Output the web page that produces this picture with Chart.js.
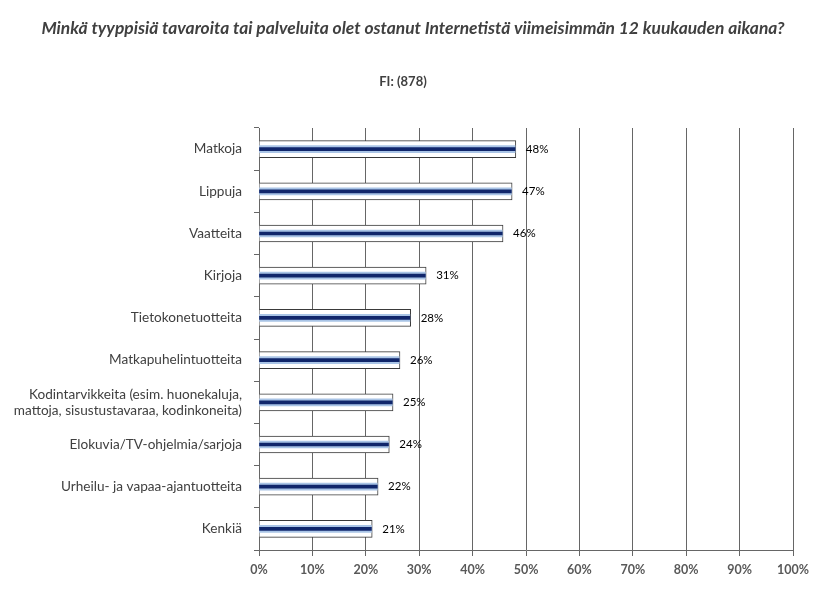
<!DOCTYPE html>
<html><head><meta charset="utf-8">
<script src="https://cdn.jsdelivr.net/npm/chart.js@4"></script>
<style>html,body{margin:0;padding:0;background:#fff}#wrap{width:818px;height:594px;position:relative}</style>
</head><body><div id="wrap"><canvas id="c" width="818" height="594"></canvas></div>
<script>
const categories = ["Matkoja","Lippuja","Vaatteita","Kirjoja","Tietokonetuotteita","Matkapuhelintuotteita",["Kodintarvikkeita (esim. huonekaluja,","mattoja, sisustustavaraa, kodinkoneita)"],"Elokuvia/TV-ohjelmia/sarjoja","Urheilu- ja vapaa-ajantuotteita","Kenkiä"];
const values = [48.1, 47.4, 45.7, 31.3, 28.4, 26.4, 25.1, 24.4, 22.3, 21.2];
const valueLabels = ["48%","47%","46%","31%","28%","26%","25%","24%","22%","21%"];
const xTicks = [0,10,20,30,40,50,60,70,80,90,100];
const title = "Minkä tyyppisiä tavaroita tai palveluita olet ostanut Internetistä viimeisimmän 12 kuukauden aikana?";
const subtitle = "FI: (878)";

const textPlugin = {
  id:'texts',
  afterDraw(chart){
    const ctx = chart.ctx;
    ctx.save();
    ctx.fillStyle = '#404040';
    ctx.textAlign = 'center';
    ctx.textBaseline = 'middle';
    ctx.font = 'italic bold 17.4px Lato';
    ctx.fillText(title, 413, 28);
    ctx.font = 'bold 13px Lato';
    ctx.fillText(subtitle, 403, 82);
    const meta = chart.getDatasetMeta(0);
    ctx.fillStyle = '#000';
    ctx.font = '11.5px Lato';
    ctx.textAlign = 'left';
    meta.data.forEach((el,i)=>{
      ctx.fillText(valueLabels[i], el.x + 10, el.y);
    });
    ctx.restore();
  }
};

new Chart(document.getElementById('c'), {
  type:'bar',
  data:{
    labels: categories,
    datasets:[
      {data: values, backgroundColor:'#ffffff', borderColor:'#3a3a3a', borderWidth:1, barThickness:17, grouped:false, order:3},
      {data: values.map(v=>v-0.15), backgroundColor:'#a9c4e6', borderWidth:0, barThickness:7, grouped:false, order:2},
      {data: values.map(v=>v-0.15), backgroundColor:'#10266b', borderWidth:0, barThickness:3, grouped:false, order:1}
    ]
  },
  options:{
    indexAxis:'y',
    responsive:false,
    animation:false,
    layout:{padding:{top:128,right:25,left:0,bottom:0}},
    plugins:{legend:{display:false},tooltip:{enabled:false}},
    scales:{
      x:{
        min:0,max:100,
        afterFit(s){s.height=44;},
        afterBuildTicks(s){s.ticks = xTicks.map(v=>({value:v}));},
        ticks:{callback:v=>v+'%', color:'#595959', font:{family:'Lato', size:12.5, weight:'bold'}, padding:6, maxRotation:0, autoSkip:false},
        grid:{color:'#666666', lineWidth:1, tickLength:6, drawTicks:true},
        border:{color:'#666666'}
      },
      y:{
        afterFit(s){s.width=259;},
        ticks:{color:'#404040', font:{family:'Lato', size:13.6}, padding:12, autoSkip:false},
        grid:{drawOnChartArea:false, offset:true, tickLength:5, color:'#666666'},
        border:{color:'#666666'}
      }
    }
  },
  plugins:[textPlugin]
});
</script></body></html>
